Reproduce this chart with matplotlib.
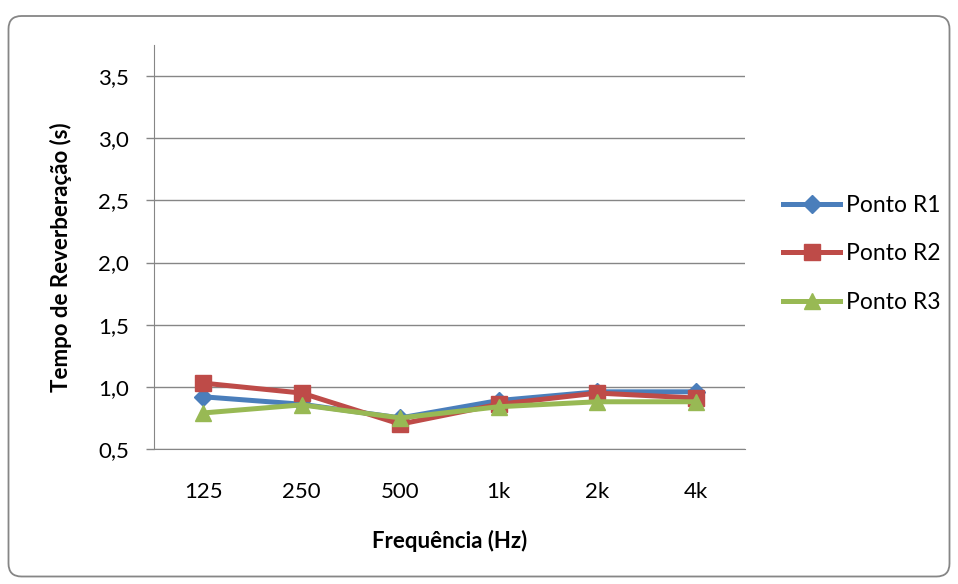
import matplotlib.pyplot as plt
from matplotlib.patches import FancyBboxPatch

frequencias = ["125", "250", "500", "1k", "2k", "4k"]
ponto_r1 = [0.92, 0.86, 0.75, 0.89, 0.96, 0.96]
ponto_r2 = [1.03, 0.95, 0.70, 0.86, 0.95, 0.91]
ponto_r3 = [0.79, 0.855, 0.75, 0.84, 0.88, 0.88]
y_ticks = [0.5, 1.0, 1.5, 2.0, 2.5, 3.0, 3.5]

plt.rcParams['font.family'] = ['Lato', 'DejaVu Sans']

fig = plt.figure(figsize=(9.58, 5.84), dpi=100)
fig.patch.set_facecolor('white')

# borda arredondada (em polegadas)
borda = FancyBboxPatch((0.085, 0.075), 9.41, 5.605, boxstyle="round,pad=0,rounding_size=0.13",
                       transform=fig.dpi_scale_trans, facecolor='none', edgecolor='#868686',
                       linewidth=1.3, zorder=-1)
fig.patches.append(borda)

ax = fig.add_axes([154 / 958, 135 / 584, 591 / 958, 404 / 584])
ax.patch.set_alpha(0)
x = range(len(frequencias))

ax.plot(x, ponto_r1, color='#4a7ebb', linewidth=3.6, marker='D', markersize=9, label='Ponto R1')
ax.plot(x, ponto_r2, color='#be4b48', linewidth=3.6, marker='s', markersize=12, label='Ponto R2')
ax.plot(x, ponto_r3, color='#98b954', linewidth=3.6, marker='^', markersize=12, label='Ponto R3')

ax.set_xlim(-0.5, len(frequencias) - 0.5)
ax.set_ylim(0.5, 3.75)
ax.set_yticks(y_ticks)
ax.set_yticklabels([f"{v:.1f}".replace('.', ',') for v in y_ticks], fontsize=16)
ax.set_xticks(list(x))
ax.set_xticklabels(frequencias, fontsize=16)
ax.tick_params(axis='x', length=0, pad=24)
ax.tick_params(axis='y', length=6, width=1, color='#868686', pad=12)
ax.grid(axis='y', color='#868686', linewidth=1)
ax.set_axisbelow(True)
for s in ['top', 'right']:
    ax.spines[s].set_visible(False)
ax.spines['left'].set_color('#868686')
ax.spines['bottom'].set_color('#868686')

ax.set_xlabel('Frequência (Hz)', fontsize=16, fontweight='bold')
ax.xaxis.set_label_coords(0.5, -0.2)
ax.set_ylabel('Tempo de Reverberação (s)', fontsize=16, fontweight='bold')
ax.yaxis.set_label_coords(-0.139, 0.475)

ax.legend(loc='center left', bbox_to_anchor=(783 / 958, 330 / 584), bbox_transform=fig.transFigure,
          frameon=False, fontsize=16.5, borderpad=0, borderaxespad=0,
          handlelength=2.5, labelspacing=1.2, handletextpad=0.25)

fig.savefig('out.png', dpi=100)
